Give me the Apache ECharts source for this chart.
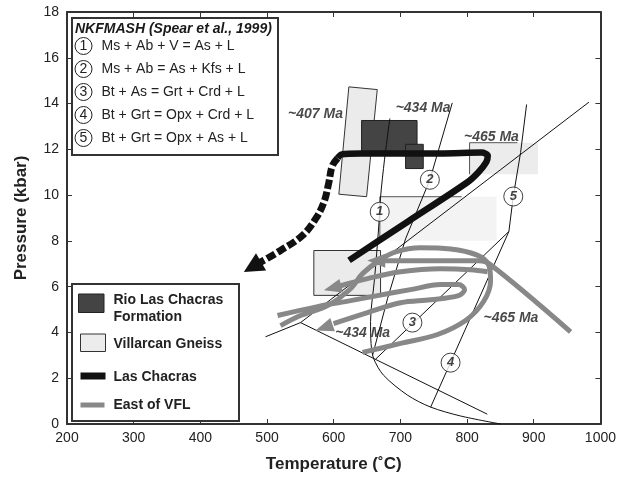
<!DOCTYPE html>
<html><head><meta charset="utf-8">
<script src="https://cdn.jsdelivr.net/npm/echarts@6/dist/echarts.min.js"></script>
<style>html,body{margin:0;padding:0;background:#fff}#c{width:619px;height:478px}</style>
</head><body><div id="c"></div>
<script>
// ---- axes ----
const xTicks = [200,300,400,500,600,700,800,900,1000];
const yTicks = [0,2,4,6,8,10,12,14,16,18];

// ---- reaction lines (T degC, P kbar) ----
const line1 = [[684.2,13.35],[676.25,11.57],[670.25,9.91],[667.25,8.52],[661.25,6.35],[655.25,4.48],[656,3.52],[659.75,2.87],[674.75,2.13],[710.75,1.26],[745.25,0.74],[790.25,0.35],[850.25,0]];
const line2 = [[777.8,14.03],[744.2,10.67],[707.75,8.09],[680.75,5.48],[658.25,3.0]];
const line3 = [[662.75,2.83],[862.7,8.41]];
const line4 = [[745.25,0.73],[862.7,8.41]];
const line5 = [[889.25,13.96],[880.25,11.86],[869.3,9.94],[862.7,8.41]];
const lineA = [[497.75,3.81],[550.25,4.43],[982.7,14.06]];
const lineB = [[550.25,4.43],[830.3,0.43]];

// ---- boxes ----
const villarcanPolygon = [[622.7,14.73],[665.3,14.61],[649.3,9.93],[607.7,10.04]];
const villarcanRects = [[803.75,10.91,906.2,12.29],[669.2,8.01,844.25,9.93],[570.2,5.62,670.25,7.58]];
const rioRects = [[641.75,11.75,725,13.26],[707.75,11.16,734.3,12.22]];

// ---- P-T paths ----
const lasChacrasSolid = [[623,7.15],[711.5,8.85],[800,10.55],[817,11.0],[829,11.45],[831,11.72],[822,11.86],[760,11.82],[700,11.82],[640,11.82],[612,11.78],[606,11.62]];
const lasChacrasDashed = [[606,11.62],[597.8,11.27],[592.7,10.55],[585.2,9.68],[572.75,8.96],[552.8,8.23],[520.25,7.58],[490.25,7.07]];
const lasChacrasArrow = [[490.25,7.07,465.2,6.64]];

const eastVFL1 = [[955.25,4.03],[835.25,6.96],[817.25,7.13],[745.25,7.13],[674.75,7.13]];
const eastVFL2 = [[643.25,3.13],[700.25,3.52],[755.75,3.91],[797.75,4.52],[824.75,5.35],[835.25,6.26],[832.25,6.96],[814.25,7.39],[775.25,7.65],[730.25,7.70],[692.75,7.52],[667.25,7.13],[643.25,6.57],[625.25,5.91],[590.75,5.17],[550.25,4.74],[520.25,4.30]];
const eastVFL3 = [[830.75,6.65],[805.25,6.74],[760.25,6.78],[700.25,6.65],[650.75,6.35],[610.25,6.04]];
const eastVFL4 = [[515.75,4.74],[575.75,5.13],[625.25,5.39],[665.75,5.61],[715.25,5.87],[760.25,6.09],[787.25,6.09],[796.25,5.87],[787.25,5.61],[745.25,5.43],[700.25,5.30],[650.75,4.87],[599.75,4.39]];
const eastVFLArrows = [[745.25,7.13,650.3,7.14],[650.75,6.35,585.2,5.84],[650.75,4.87,572.75,4.09]];

// ---- annotations ----
const circleLabels = [[669,9.27,'1'],[744.2,10.67,'2'],[718,4.43,'3'],[775.25,2.68,'4'],[869.3,9.94,'5']];
const ageLabels = [[572.75,13.55,'~407 Ma'],[734,13.81,'~434 Ma'],[836.5,12.53,'~465 Ma'],[643.5,3.96,'~434 Ma'],[865.75,4.61,'~465 Ma']];
const reactionTexts = ['Ms + Ab + V = As + L','Ms + Ab = As + Kfs + L','Bt + As = Grt + Crd + L','Bt + Grt = Opx + Crd + L','Bt + Grt = Opx + As + L'];
const legendNames = ['Rio Las Chacras','Formation','Villarcan Gneiss','Las Chacras','East of VFL'];

const FONT = '"Liberation Sans", Arial, sans-serif';
const villarcanFills = ['#ececec','#f3f3f3','#ebebeb'];
const villarcanEdges = ['tl','tl','all'];

function thin(data, smooth) {
  return {type:'line', data, symbol:'none', smooth: smooth||false, z:3,
    lineStyle:{color:'#111', width:1}, silent:true};
}
function gray(data) {
  return {type:'line', data, symbol:'none', smooth:0.35, z:5,
    lineStyle:{color:'#888', width:5, cap:'butt'}, silent:true};
}
function arrowSeries(arr, color, len, wid, z) {
  return {type:'custom', data: arr.map(a=>[a[2],a[3]]), z, silent:true,
    renderItem(params, api){
      const a = arr[params.dataIndex];
      const p0 = api.coord([a[0],a[1]]), p1 = api.coord([a[2],a[3]]);
      let dx = p1[0]-p0[0], dy = p1[1]-p0[1];
      const d = Math.hypot(dx,dy); dx/=d; dy/=d;
      const bx = p1[0]-dx*len, by = p1[1]-dy*len;
      const px = -dy*wid/2, py = dx*wid/2;
      return {type:'polygon', shape:{points:[[p1[0],p1[1]],[bx+px,by+py],[bx-px,by-py]]},
        style:{fill:color}};
    }};
}

const chart = echarts.init(document.getElementById('c'), null, {renderer:'canvas'});

const axisCommon = {
  type:'value', splitLine:{show:false},
  axisLine:{show:true, onZero:false, lineStyle:{color:'#333', width:2}},
  axisTick:{show:true, inside:true, length:5, lineStyle:{color:'#333', width:1}}
};

const option = {
  animation:false,
  grid:{left:67, right:18, top:12, bottom:52, containLabel:false},
  xAxis:[
    Object.assign({}, axisCommon, {min:xTicks[0], max:xTicks[xTicks.length-1], interval:xTicks[1]-xTicks[0], position:'bottom',
      axisLabel:{fontSize:14, color:'#222', margin:7, fontFamily:FONT, formatter:v=>String(v)},
      name:'Temperature (˚C)', nameLocation:'middle', nameGap:32,
      nameTextStyle:{fontSize:17, fontWeight:'bold', color:'#222', fontFamily:FONT}}),
    Object.assign({}, axisCommon, {min:xTicks[0], max:xTicks[xTicks.length-1], interval:xTicks[1]-xTicks[0], position:'top',
      axisLabel:{show:false}})
  ],
  yAxis:[
    Object.assign({}, axisCommon, {min:yTicks[0], max:yTicks[yTicks.length-1], interval:yTicks[1]-yTicks[0], position:'left',
      axisLabel:{fontSize:14, color:'#222', margin:8, fontFamily:FONT},
      name:'Pressure (kbar)', nameLocation:'middle', nameGap:37,
      nameTextStyle:{fontSize:17, fontWeight:'bold', color:'#222', fontFamily:FONT}}),
    Object.assign({}, axisCommon, {min:yTicks[0], max:yTicks[yTicks.length-1], interval:yTicks[1]-yTicks[0], position:'right',
      axisLabel:{show:false}})
  ],
  series:[
    {type:'custom', data:[villarcanPolygon[0]], z:1, silent:true,
      renderItem(params, api){
        return {type:'polygon', shape:{points: villarcanPolygon.map(p=>api.coord(p))},
          style:{fill:'#ebebeb', stroke:'#333', lineWidth:1}};
      }},
    {type:'custom', data: villarcanRects.map(r=>[r[0],r[1]]), z:1, silent:true,
      renderItem(params, api){
        const i = params.dataIndex, r = villarcanRects[i];
        const p1 = api.coord([r[0],r[1]]), p2 = api.coord([r[2],r[3]]);
        const x = Math.min(p1[0],p2[0]), y = Math.min(p1[1],p2[1]);
        const w = Math.abs(p2[0]-p1[0]), h = Math.abs(p2[1]-p1[1]);
        const ch = [{type:'rect', shape:{x,y,width:w,height:h},
          style:{fill:villarcanFills[i], stroke: villarcanEdges[i]==='all' ? '#333' : null, lineWidth:1}}];
        if (villarcanEdges[i]==='tl') ch.push({type:'polyline', shape:{points:[[x,y+h],[x,y],[x+w*0.7,y]]},
          style:{stroke:'#555', lineWidth:1, fill:null}});
        return {type:'group', children:ch};
      }},
    {type:'custom', data: rioRects.map(r=>[r[0],r[1]]), z:2, silent:true,
      renderItem(params, api){
        const r = rioRects[params.dataIndex];
        const p1 = api.coord([r[0],r[1]]), p2 = api.coord([r[2],r[3]]);
        return {type:'rect', shape:{x:Math.min(p1[0],p2[0]), y:Math.min(p1[1],p2[1]),
          width:Math.abs(p2[0]-p1[0]), height:Math.abs(p2[1]-p1[1])},
          style:{fill:'#444', stroke:'#222', lineWidth:1}};
      }},
    thin(line1, 0.3), thin(line2), thin(line3), thin(line4), thin(line5), thin(lineA), thin(lineB),
    gray(eastVFL1), gray(eastVFL2), gray(eastVFL3), gray(eastVFL4),
    arrowSeries(eastVFLArrows, '#888', 18, 14, 6),
    {type:'line', data:lasChacrasSolid, symbol:'none', smooth:0.3, z:7, silent:true,
      lineStyle:{color:'#111', width:6.5, cap:'butt'}},
    {type:'line', data:lasChacrasDashed, symbol:'none', smooth:0.4, z:7, silent:true,
      lineStyle:{color:'#111', width:7, type:[9,3], cap:'butt'}},
    arrowSeries(lasChacrasArrow, '#111', 20, 20, 7),
    {type:'scatter', z:8, silent:true, symbol:'circle', symbolSize:19,
      itemStyle:{color:'#fff', borderColor:'#111', borderWidth:1},
      data: circleLabels.map(c=>({value:[c[0],c[1]], name:c[2]})),
      label:{show:true, position:'inside', formatter:'{b}', fontSize:13, fontWeight:'bold', fontStyle:'italic', color:'#111', fontFamily:FONT}},
    {type:'scatter', z:9, silent:true, symbolSize:0,
      data: ageLabels.map(c=>({value:[c[0],c[1]], name:c[2]})),
      label:{show:true, position:'inside', formatter:'{b}', fontSize:14, fontWeight:'bold', fontStyle:'italic', color:'#1a1a1a', fontFamily:FONT}}
  ],
  graphic: []
};

const g = option.graphic;
g.push({type:'rect', z:100, shape:{x:72, y:18, width:206, height:137}, style:{fill:'#fff', stroke:'#333', lineWidth:2}});
g.push({type:'text', z:101, x:75, y:29, style:{text:'NKFMASH (Spear et al., 1999)', font:'italic bold 14px '+FONT, fill:'#1a1a1a', align:'left', verticalAlign:'middle'}});
reactionTexts.forEach((t,i)=>{
  const cy = 46 + i*23;
  g.push({type:'circle', z:101, shape:{cx:83.5, cy, r:8.5}, style:{fill:'#fff', stroke:'#222', lineWidth:1}});
  g.push({type:'text', z:102, x:83.5, y:cy+0.5, style:{text:String(i+1), font:'14px '+FONT, fill:'#222', align:'center', verticalAlign:'middle'}});
  g.push({type:'text', z:101, x:101.5, y:cy, style:{text:t, font:'14px '+FONT, fill:'#222', align:'left', verticalAlign:'middle'}});
});
g.push({type:'rect', z:100, shape:{x:72, y:284, width:167, height:137}, style:{fill:'#fff', stroke:'#333', lineWidth:2}});
g.push({type:'rect', z:101, shape:{x:78.5, y:294, width:25.5, height:18.5}, style:{fill:'#444', stroke:'#222', lineWidth:1}});
g.push({type:'rect', z:101, shape:{x:80.5, y:334, width:25, height:17.5}, style:{fill:'#ececec', stroke:'#333', lineWidth:1}});
g.push({type:'rect', z:101, shape:{x:80.5, y:372.5, width:25, height:7}, style:{fill:'#111'}});
g.push({type:'rect', z:101, shape:{x:80.5, y:402.5, width:24, height:5}, style:{fill:'#888'}});
const legendY = [300, 317.5, 344, 377, 405];
legendNames.forEach((t,i)=>{
  g.push({type:'text', z:101, x:113.5, y:legendY[i], style:{text:t, font:'bold 14px '+FONT, fill:'#222', align:'left', verticalAlign:'middle'}});
});

chart.setOption(option);
</script></body></html>
